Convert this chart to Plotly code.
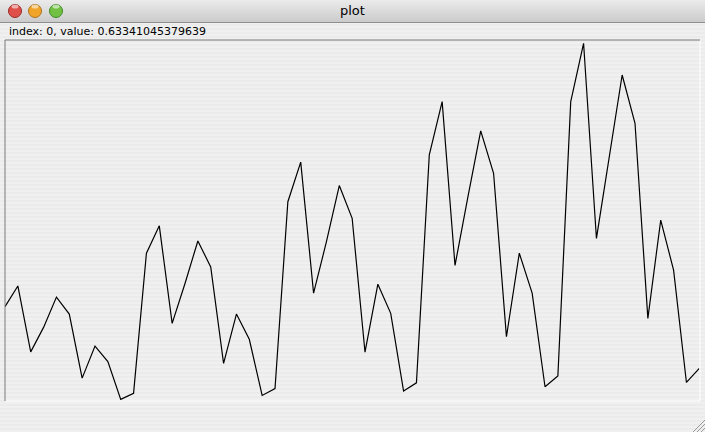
import plotly.graph_objects as go

W, H = 705, 432

# ---- data ----
indices = list(range(55))
values = [
    0.63341045379639, 0.691, 0.508, 0.576, 0.660, 0.613, 0.435, 0.524, 0.481, 0.376,
    0.393, 0.782, 0.858, 0.587, 0.698, 0.816, 0.744, 0.476, 0.613, 0.543,
    0.387, 0.406, 0.925, 1.035, 0.671, 0.814, 0.970, 0.879, 0.507, 0.696,
    0.615, 0.399, 0.422, 1.055, 1.203, 0.748, 0.938, 1.122, 1.004, 0.550,
    0.782, 0.671, 0.411, 0.441, 1.203, 1.365, 0.823, 1.051, 1.277, 1.143,
    0.601, 0.874, 0.735, 0.423, 0.462,
]
window_title = "plot"
status_text = f"index: {indices[0]}, value: {values[0]}"

def px(x):
    return x / W

def py(y):
    return 1 - y / H

fig = go.Figure()
fig.add_trace(go.Scatter(
    x=indices, y=values, mode="lines",
    line=dict(color="#000000", width=1.2),
    hoverinfo="skip", showlegend=False,
))

shapes = []
# pinstripe background
for y in range(22, H, 4):
    shapes.append(dict(type="rect", xref="paper", yref="paper",
                       x0=0, x1=1, y0=py(y + 2), y1=py(y),
                       fillcolor="#f0f0f0", line=dict(width=0), layer="below"))
# title bar gradient
top = (0xea, 0xea, 0xea)
bot = (0xcc, 0xcc, 0xcc)
for y in range(22):
    t = y / 21
    c = tuple(int(round(top[i] + (bot[i] - top[i]) * t)) for i in range(3))
    shapes.append(dict(type="rect", xref="paper", yref="paper",
                       x0=0, x1=1, y0=py(y + 1), y1=py(y),
                       fillcolor="rgb(%d,%d,%d)" % c, line=dict(width=0), layer="below"))
shapes.append(dict(type="line", xref="paper", yref="paper", x0=0, x1=1,
                   y0=py(22.5), y1=py(22.5), line=dict(color="#8e8e8e", width=1)))
# traffic lights
for cx, fill, edge in [(15, "#e0504a", "#9c2a25"), (35, "#f0a52a", "#b0721a"), (56, "#72c044", "#3f8a25")]:
    r = 6.5
    shapes.append(dict(type="circle", xref="paper", yref="paper",
                       x0=px(cx - r), x1=px(cx + r), y0=py(11 + r), y1=py(11 - r),
                       fillcolor=fill, line=dict(color=edge, width=1)))
    shapes.append(dict(type="circle", xref="paper", yref="paper",
                       x0=px(cx - 3.5), x1=px(cx + 3.5), y0=py(8.5), y1=py(4.5),
                       fillcolor="rgba(255,255,255,0.55)", line=dict(width=0)))
# plot frame
shapes.append(dict(type="line", xref="paper", yref="paper", x0=px(700), x1=px(700),
                   y0=py(40), y1=py(401), line=dict(color="#ffffff", width=1)))
shapes.append(dict(type="line", xref="paper", yref="paper", x0=px(5), x1=px(700),
                   y0=py(401), y1=py(401), line=dict(color="#ffffff", width=1)))
shapes.append(dict(type="line", xref="paper", yref="paper", x0=px(5), x1=px(5),
                   y0=py(40), y1=py(401), line=dict(color="#7a7a7a", width=1)))
shapes.append(dict(type="line", xref="paper", yref="paper", x0=px(5), x1=px(700),
                   y0=py(40), y1=py(40), line=dict(color="#7a7a7a", width=1)))
# resize grip
for d in (4, 8, 12):
    shapes.append(dict(type="line", xref="paper", yref="paper",
                       x0=px(W - d), x1=px(W), y0=py(H), y1=py(H - d),
                       line=dict(color="#9a9a9a", width=1)))

annotations = [
    dict(text=window_title, xref="paper", yref="paper", x=px(352.5), y=py(11),
         xanchor="center", yanchor="middle", showarrow=False,
         font=dict(family="DejaVu Sans", size=13, color="#000000")),
    dict(text=status_text, xref="paper", yref="paper", x=px(7), y=py(31),
         xanchor="left", yanchor="middle", showarrow=False,
         font=dict(family="DejaVu Sans", size=11, color="#000000")),
]

fig.update_layout(
    width=W, height=H,
    margin=dict(l=0, r=0, t=0, b=0),
    paper_bgcolor="#ebebeb",
    plot_bgcolor="rgba(0,0,0,0)",
    shapes=shapes,
    annotations=annotations,
    xaxis=dict(domain=[px(5), px(699.3)], range=[0, 54], visible=False, fixedrange=True),
    yaxis=dict(domain=[py(400.7), py(40.3)], range=[0.3723, 1.3734], visible=False, fixedrange=True),
    showlegend=False,
)
fig.write_html("out.html", config={"displayModeBar": False})
